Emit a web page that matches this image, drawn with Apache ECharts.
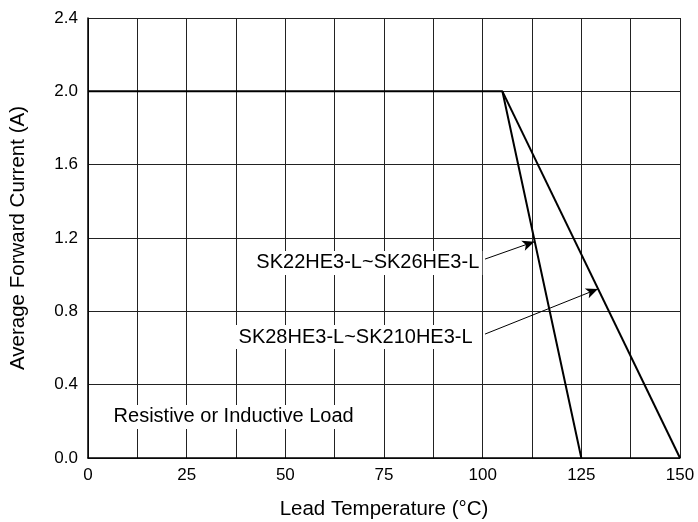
<!DOCTYPE html>
<html><head><meta charset="utf-8">
<script src="https://cdn.jsdelivr.net/npm/echarts@6/dist/echarts.min.js"></script>
<style>html,body{margin:0;padding:0;background:#fff}#c{width:698px;height:522px}</style>
</head><body><div id="c"></div>
<script>
// Derating curves: [temperature °C, current A]
const curveA = [[0, 2.0], [105, 2.0], [125, 0.0]];   // SK22HE3-L~SK26HE3-L
const curveB = [[105, 2.0], [150, 0.0]];             // SK28HE3-L~SK210HE3-L
const xTicks = [0, 25, 50, 75, 100, 125, 150];
const yTicks = [0.0, 0.4, 0.8, 1.2, 1.6, 2.0, 2.4];
// annotation labels [x, y, text]
const labels = [
  [70.9, 1.064, 'SK22HE3-L~SK26HE3-L'],
  [67.8, 0.66, 'SK28HE3-L~SK210HE3-L'],
  [36.9, 0.224, 'Resistive or Inductive Load']
];
// arrows [[x0,y0],[x1,y1]]
const arrows = [
  [[100.6, 1.085], [113.1, 1.18]],
  [[100.6, 0.676], [129.2, 0.922]]
];

const chart = echarts.init(document.getElementById('c'));
const font = 'Liberation Sans, Arial, sans-serif';
chart.setOption({
  animation: false,
  grid: {left: 88, right: 18, top: 18, bottom: 64, outerBoundsMode: 'none', containLabel: false},
  xAxis: {
    type: 'value', min: 0, max: 150, interval: 12.5,
    name: 'Lead Temperature (°C)', nameLocation: 'middle', nameGap: 41,
    nameTextStyle: {fontFamily: font, fontSize: 20.5, color: '#000'},
    axisLine: {show: true, lineStyle: {color: '#000', width: 1.5}},
    axisTick: {show: false},
    axisLabel: {fontFamily: font, fontSize: 17, color: '#000', margin: 9,
      formatter: v => xTicks.includes(v) ? String(v) : ''},
    splitLine: {show: true, lineStyle: {color: '#222', width: 1}}
  },
  yAxis: {
    type: 'value', min: 0, max: 2.4, interval: 0.4,
    name: 'Average Forward Current (A)', nameLocation: 'middle', nameGap: 59,
    nameTextStyle: {fontFamily: font, fontSize: 20.5, color: '#000'},
    axisLine: {show: true, lineStyle: {color: '#000', width: 1.5}},
    axisTick: {show: false},
    axisLabel: {fontFamily: font, fontSize: 17, color: '#000', margin: 10,
      formatter: v => {const t = yTicks.find(y => Math.abs(y - v) < 1e-6); return t === undefined ? '' : t.toFixed(1);}},
    splitLine: {show: true, lineStyle: {color: '#222', width: 1}}
  },
  series: [
    {type: 'line', data: curveA, symbol: 'none', lineStyle: {color: '#000', width: 2}, z: 5},
    {type: 'line', data: curveB, symbol: 'none', lineStyle: {color: '#000', width: 2}, z: 5,
      markLine: {
        silent: true, symbol: ['none', 'arrow'], symbolSize: [8, 12],
        lineStyle: {color: '#000', width: 1, type: 'solid'}, label: {show: false},
        data: arrows.map(a => [{coord: a[0]}, {coord: a[1]}])
      }},
    {type: 'scatter', symbolSize: 0, z: 10, silent: true,
      itemStyle: {opacity: 1},
      data: labels.map(l => ({value: [l[0], l[1]], label: {formatter: l[2]}})),
      label: {show: true, position: 'inside', fontFamily: font, fontSize: 20, color: '#000',
        opacity: 1, backgroundColor: '#fff', padding: [2, 3]}}
  ]
});
</script></body></html>
